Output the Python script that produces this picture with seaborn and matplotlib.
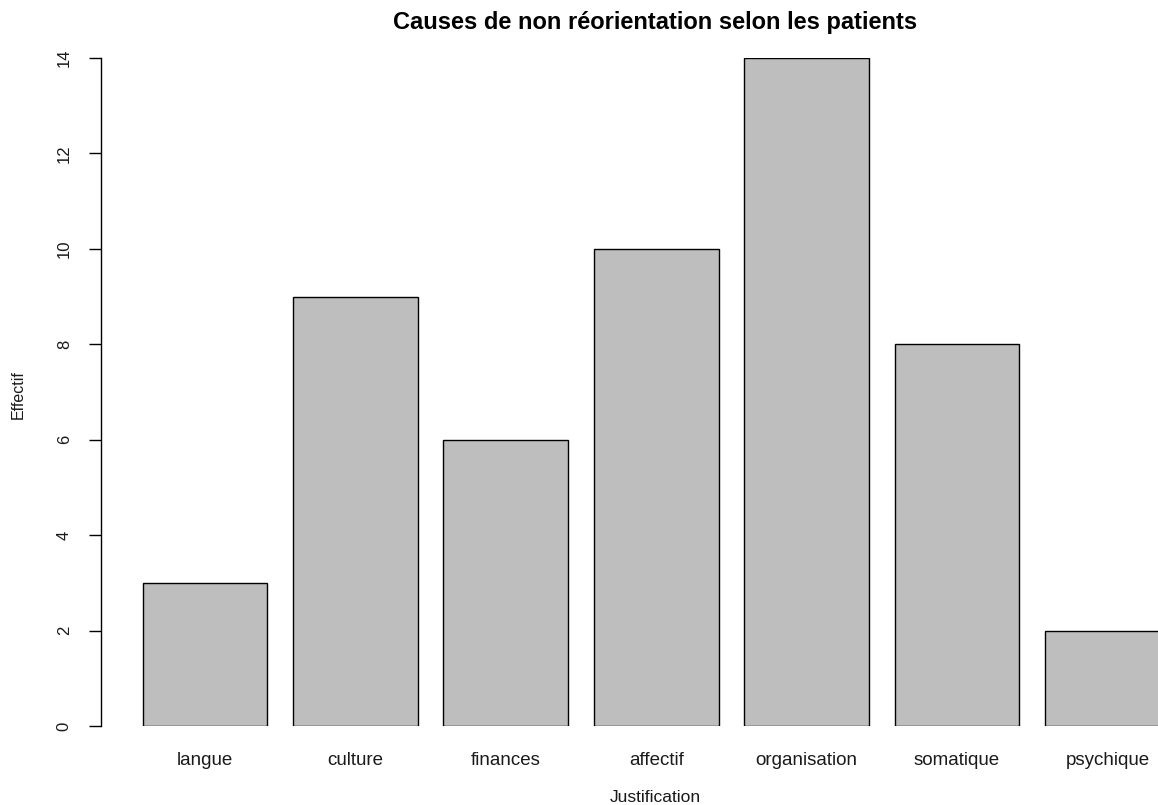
import matplotlib
matplotlib.use("Agg")
import matplotlib.pyplot as plt
import pandas as pd
import seaborn as sns

# Data
categories = ["langue", "culture", "finances", "affectif", "organisation", "somatique", "psychique"]
effectifs = [3, 9, 6, 10, 14, 8, 2]
yticks = [0, 2, 4, 6, 8, 10, 12, 14]

df = pd.DataFrame({"Justification": categories, "Effectif": effectifs})

sns.set_style("white")
plt.rcParams["font.family"] = ["Liberation Sans", "DejaVu Sans"]

W, H = 1158, 805
fig = plt.figure(figsize=(W / 100, H / 100), dpi=100)

# axes in pixel terms: left at y-axis line, bottom at y=0, top at y=14
left, right, top, bottom = 101, 1158, 58, 726
ax = fig.add_axes([left / W, 1 - bottom / H, (right - left) / W, (bottom - top) / H])

sns.barplot(data=df, x="Justification", y="Effectif", order=categories,
            color="#bebebe", saturation=1, width=0.831,
            edgecolor="black", linewidth=1.0, ax=ax)

pitch = 150.4
c0 = 205.0
ax.set_xlim((left - c0) / pitch, (right - c0) / pitch)
ax.set_ylim(0, 14)

for s in ["top", "right", "bottom"]:
    ax.spines[s].set_visible(False)
ax.spines["left"].set_bounds(0, 14)
ax.spines["left"].set_linewidth(1.0)
ax.spines["left"].set_color("black")

ax.set_yticks(yticks)
ax.set_yticklabels([str(v) for v in yticks], rotation=90, va="center", fontsize=12, color="#1a1a1a")
ax.tick_params(axis="y", direction="out", length=9, width=1.0, pad=12, color="black", left=True)
ax.tick_params(axis="x", length=0, pad=19, labelsize=13.5, colors="#1a1a1a")

ax.set_xlabel("")
ax.set_ylabel("")

fig.text(655 / W, 1 - 22 / H, "Causes de non réorientation selon les patients",
         ha="center", va="center", fontsize=17, fontweight="bold", color="black")
fig.text(655 / W, 1 - 797 / H, "Justification", ha="center", va="center", fontsize=12.5, color="#1a1a1a")
fig.text(18 / W, 1 - 395 / H, "Effectif", ha="center", va="center", rotation=90, fontsize=11.5, color="#1a1a1a")

fig.savefig("out.png", dpi=100)
